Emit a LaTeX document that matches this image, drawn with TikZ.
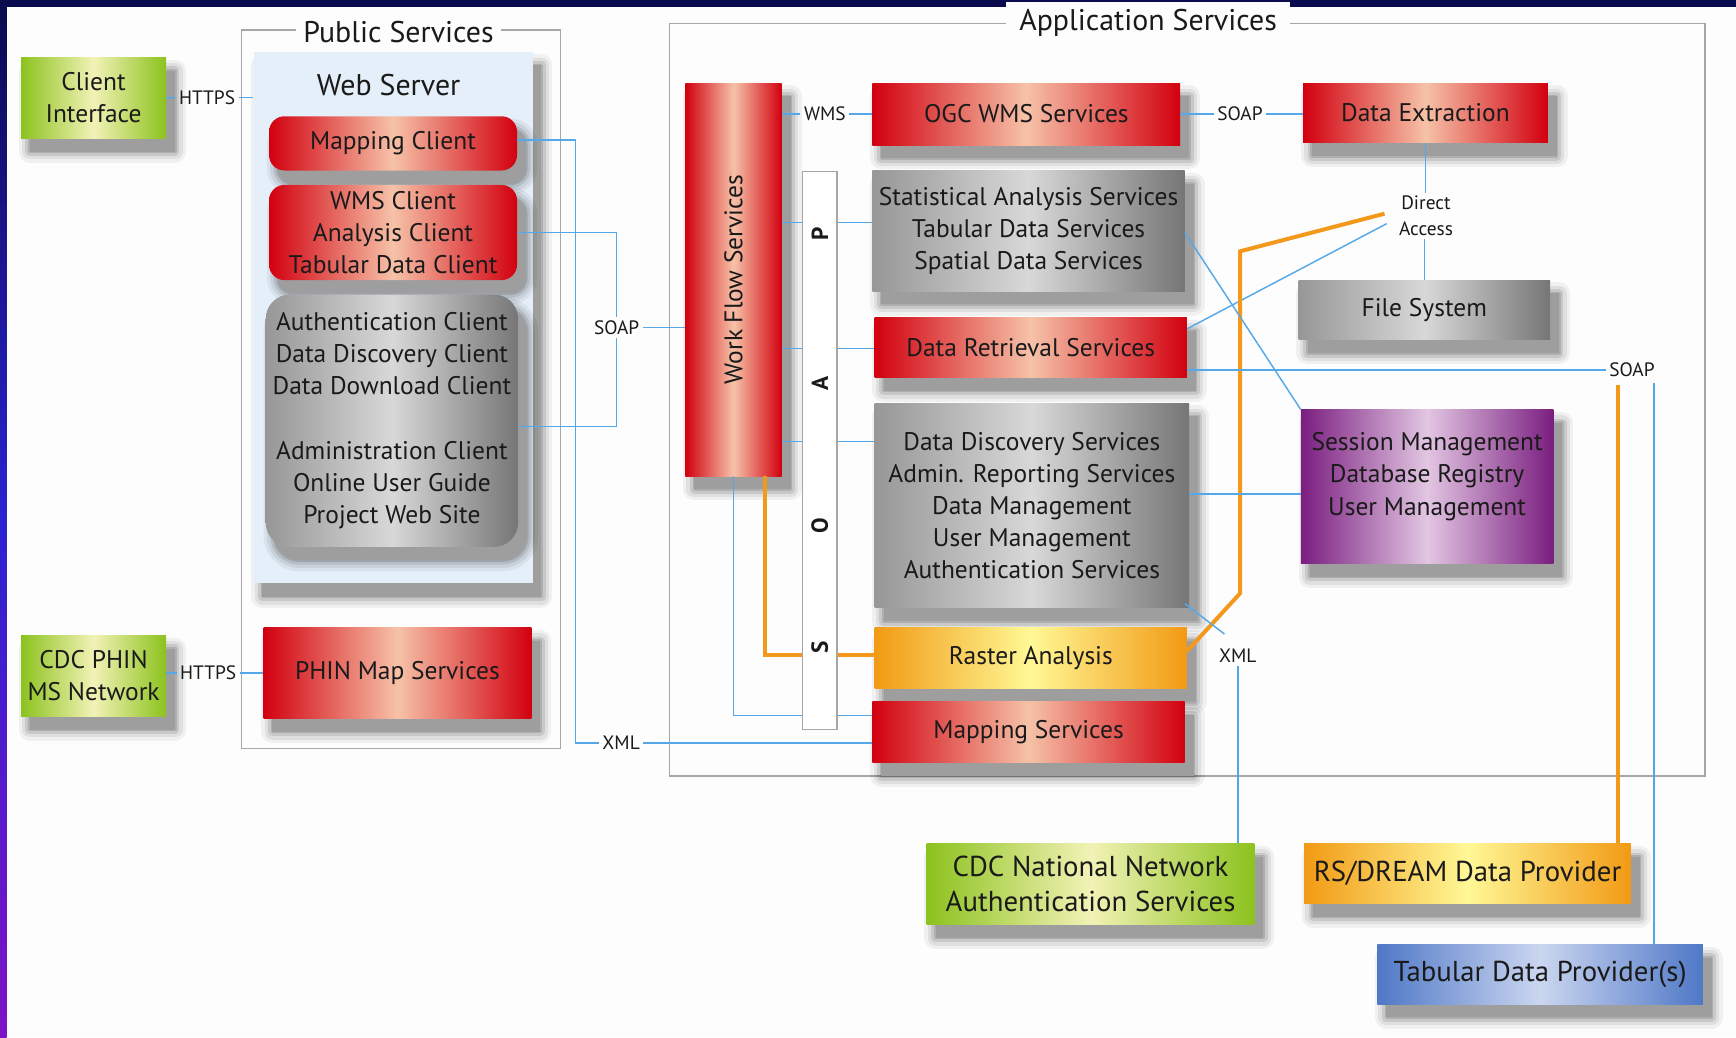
\documentclass[tikz,border=0pt]{standalone}
\usepackage{fontspec}
\setmainfont{PT Sans}
\usetikzlibrary{shadows}

\definecolor{navy}{HTML}{0A0A4E}
\definecolor{stripblue}{HTML}{2A22D2}
\definecolor{strippurple}{HTML}{7E12C6}
\definecolor{bgwhite}{HTML}{FDFDFD}
\definecolor{inkblack}{HTML}{1A1A1A}
\definecolor{redA}{HTML}{D2000F}
\definecolor{redB}{HTML}{F6C2A8}
\definecolor{grayA}{HTML}{979797}
\definecolor{grayB}{HTML}{D8D8D8}
\definecolor{grayC}{HTML}{767676}
\definecolor{greenA}{HTML}{8CC21E}
\definecolor{greenB}{HTML}{F2F2B6}
\definecolor{orangeA}{HTML}{F29A14}
\definecolor{orangeB}{HTML}{FFF896}
\definecolor{purpleA}{HTML}{7A1E80}
\definecolor{purpleB}{HTML}{E2C6E2}
\definecolor{blueA}{HTML}{4F78C6}
\definecolor{blueB}{HTML}{CBD6F0}
\definecolor{webblue}{HTML}{E5EFF9}
\definecolor{linkblue}{HTML}{55A8E8}
\definecolor{orangeline}{HTML}{F2991C}
\definecolor{framegray}{HTML}{A6A6A6}

\newcommand\boxfont{\fontsize{23}{29}\selectfont}
\newcommand\bigfont{\fontsize{26}{32}\selectfont}
\newcommand\titlefont{\fontsize{27}{30}\selectfont}
\newcommand\lblfont{\fontsize{17.5}{23}\selectfont}

\tikzset{
  shadowed/.style={
    general shadow={draw=black, opacity=0.05, line width=20pt, line join=round, shadow xshift=8pt, shadow yshift=-12pt},
    general shadow={draw=black, opacity=0.07, line width=14pt, line join=round, shadow xshift=8pt, shadow yshift=-12pt},
    general shadow={draw=black, opacity=0.10, line width=8pt, line join=round, shadow xshift=8pt, shadow yshift=-12pt},
    general shadow={draw=black, opacity=0.12, line width=3pt, line join=round, shadow xshift=8pt, shadow yshift=-12pt},
    general shadow={fill=black!38, shadow xshift=8pt, shadow yshift=-12pt}},
  box/.style={shadowed, inner sep=0pt, align=center, font=\boxfont, text=inkblack},
  redbox/.style={box, left color=redA, right color=redA, middle color=redB},
  graybox/.style={box, left color=grayA, right color=grayC, middle color=grayB},
  greenbox/.style={box, left color=greenA, right color=greenA, middle color=greenB},
  orangebox/.style={box, left color=orangeA, right color=orangeA, middle color=orangeB},
  purplebox/.style={box, left color=purpleA, right color=purpleA, middle color=purpleB},
  bluebox/.style={box, left color=blueA, right color=blueA, middle color=blueB},
  panel/.style={shadowed, fill=webblue, inner sep=0pt},
  title/.style={font=\titlefont, inner sep=7pt, text=inkblack},
  lbl/.style={font=\lblfont, inner sep=3pt, text=inkblack},
  soapletter/.style={font=\fontsize{21}{21}\selectfont\bfseries, rotate=90, inner sep=0pt, text=inkblack},
  frame/.style={draw=framegray, line width=1.2pt},
  link/.style={draw=linkblue, line width=1.3pt},
  orangelink/.style={draw=orangeline, line width=3.6pt}
}

\begin{document}
\begin{tikzpicture}[x=1pt,y=-1pt]
\useasboundingbox (0,0) rectangle (1568,937);
\fill[bgwhite] (0,0) rectangle (1568,937);
\shade[top color=navy, bottom color=strippurple, middle color=stripblue] (0,0) rectangle (6,937);
\fill[navy] (0,0) rectangle (1568,6);

% public services
\draw[frame] (218,27) rectangle (506,676);
\node[title, fill=bgwhite] (pubtitle) at (360,29) {Public Services};
\node[panel, minimum width=252pt, minimum height=480pt] (webpanel) at (355,287) {};
\node[title] (webtitle) at (351,77) {Web Server};
\node[redbox, rounded corners=14pt, minimum width=224pt, minimum height=49pt] (mapclient) at (355,129.5) {Mapping Client};
\node[redbox, rounded corners=14pt, minimum width=224pt, minimum height=86pt] (wmsclient) at (355,210) {WMS Client\\Analysis Client\\Tabular Data Client};
\node[graybox, rounded corners=22pt, minimum width=228pt, minimum height=228pt] (authclient) at (354,380)
  {Authentication Client\\Data Discovery Client\\Data Download Client\\[29pt]Administration Client\\Online User Guide\\Project Web Site};
\node[redbox, minimum width=242pt, minimum height=82pt] (phinmap) at (359,608) {PHIN Map Services};

\node[greenbox, minimum width=131pt, minimum height=73pt] (client) at (84.5,88.5) {Client\\Interface};
\node[greenbox, minimum width=131pt, minimum height=73pt] (phinnet) at (84.5,610.5) {CDC PHIN\\MS Network};

% application services
\draw[frame] (605,21) rectangle (1540,701);
\node[title, fill=bgwhite, inner xsep=12pt] (apptitle) at (1037,21) {Application Services};
\node[redbox, minimum width=87pt, minimum height=355pt,
  label={[rotate=90, font=\boxfont, text=inkblack]center:Work Flow Services}] (workflow) at (662.5,252.5) {};
\node[draw=framegray, fill=white, line width=1.2pt, minimum width=31pt, minimum height=504pt] (soapbar) at (740.5,407) {};
\foreach \ch/\y [count=\i] in {P/211, A/346, O/475, S/585}
  \node[soapletter] (soap\i) at (740.5,\y) {\ch};

\node[redbox, minimum width=278pt, minimum height=56pt] (ogcwms) at (927,103) {OGC WMS Services};
\node[redbox, minimum width=221pt, minimum height=54pt] (dataext) at (1287.5,102) {Data Extraction};
\node[graybox, minimum width=282pt, minimum height=109pt] (statsvc) at (929,208.5)
  {Statistical Analysis Services\\Tabular Data Services\\Spatial Data Services};
\node[redbox, minimum width=282pt, minimum height=54pt] (retrieval) at (931,314) {Data Retrieval Services};
\node[graybox, minimum width=284pt, minimum height=185pt] (discovery) at (932,456.5)
  {Data Discovery Services\\Admin. Reporting Services\\Data Management\\User Management\\Authentication Services};
\node[orangebox, minimum width=282pt, minimum height=55pt] (raster) at (931,594.5) {Raster Analysis};
\node[redbox, minimum width=282pt, minimum height=55pt] (mapsvc) at (929,661.5) {Mapping Services};
\node[graybox, minimum width=227pt, minimum height=54pt] (filesys) at (1286.5,280) {File System};
\node[purplebox, minimum width=228pt, minimum height=139pt,
  label={[align=center, font=\boxfont, text=inkblack, yshift=9pt]center:Session Management\\Database Registry\\User Management}]
  (session) at (1289,439.5) {};

% providers
\node[greenbox, font=\bigfont, minimum width=296pt, minimum height=73pt] (cdcnat) at (985,798.5)
  {CDC National Network\\Authentication Services};
\node[orangebox, font=\bigfont, minimum width=295pt, minimum height=54pt] (rsdream) at (1325.5,789) {RS/DREAM Data Provider};
\node[bluebox, font=\bigfont, minimum width=294pt, minimum height=54pt] (tabprov) at (1391,880) {Tabular Data Provider(s)};

% labels
\node[lbl] (httpsA) at (187,88) {HTTPS};
\node[lbl] (httpsB) at (188,608) {HTTPS};
\node[lbl] (soapA) at (557,296) {SOAP};
\node[lbl] (xmlA) at (561,671) {XML};
\node[lbl] (wmslbl) at (745,103) {WMS};
\node[lbl] (soapB) at (1120,103) {SOAP};
\node[lbl, align=center] (direct) at (1288,195) {Direct\\Access};
\node[lbl] (soapC) at (1474,334) {SOAP};
\node[lbl] (xmlB) at (1118,592) {XML};

% connectors
\draw[link] (client.east) -- (httpsA.west);
\draw[link] (httpsA.east) -- (httpsA.east -| webpanel.west);
\draw[link] (phinnet.east |- httpsB) -- (httpsB.west);
\draw[link] (httpsB.east) -- (httpsB.east -| phinmap.west);
\coordinate (xmlbend) at (520,671);
\draw[link] ([yshift=3pt]mapclient.east) -| (xmlbend) -- (xmlA.west);
\draw[link] (xmlA.east) -- (xmlA.east -| mapsvc.west);
\draw[link] (wmsclient.east) -| (soapA.north);
\draw[link] (soapA.south) |- ([yshift=-5pt]authclient.east);
\draw[link] (soapA.east) -- (soapA.east -| workflow.west);

\draw[link] (workflow.east |- wmslbl) -- (wmslbl.west);
\draw[link] (wmslbl.east) -- (wmslbl.east -| ogcwms.west);
\foreach \y/\dst in {201/statsvc, 315/retrieval, 399/discovery} {
  \draw[link] (workflow.east |- 0,\y) -- (soapbar.west |- 0,\y);
  \draw[link] (soapbar.east |- 0,\y) -- (\dst.west |- 0,\y);
}
\draw[link] (workflow.south) |- (soapbar.west |- 0,646);
\draw[link] (soapbar.east |- 0,646) -- (mapsvc.west |- 0,646);
\draw[orangelink] (workflow.south -| 691,0) |- (soapbar.west |- 0,592);
\draw[orangelink] (soapbar.east |- 0,592) -- (raster.west |- 0,592);

\draw[link] (ogcwms.east) -- (soapB.west);
\draw[link] (soapB.east) -- (soapB.east -| dataext.west);
\draw[link] (dataext.south) -- (direct.north -| dataext.south);
\draw[link] (direct.south -| filesys.north) -- (filesys.north);
\draw[link] (retrieval.east |- 0,297) -- ([xshift=-8pt,yshift=-7pt]direct.west);
\coordinate (obendA) at (1120,536);
\coordinate (obendB) at (1120,227);
\draw[orangelink] (raster.east |- 0,588) -- (obendA) -- (obendB) -- ([xshift=-10pt,yshift=2pt]direct.west);
\draw[link] (statsvc.east |- 0,210) -- (session.north west);
\draw[link] (discovery.east |- 0,446) -- (session.west |- 0,446);
\draw[link] ([shift={(-4pt,4pt)}]discovery.south east) -- ([shift={(8pt,10pt)}]xmlB.north west);
\draw[link] (xmlB.south) -- (xmlB.south |- cdcnat.north);
\draw[link] (retrieval.east |- soapC) -- (soapC.west);
\coordinate (tabup) at (1494,346);
\coordinate (rsup) at (1461,348);
\draw[link] (tabup) -- (tabup |- tabprov.north);
\draw[orangelink] (rsup) -- (rsup |- rsdream.north);
\end{tikzpicture}
\end{document}
